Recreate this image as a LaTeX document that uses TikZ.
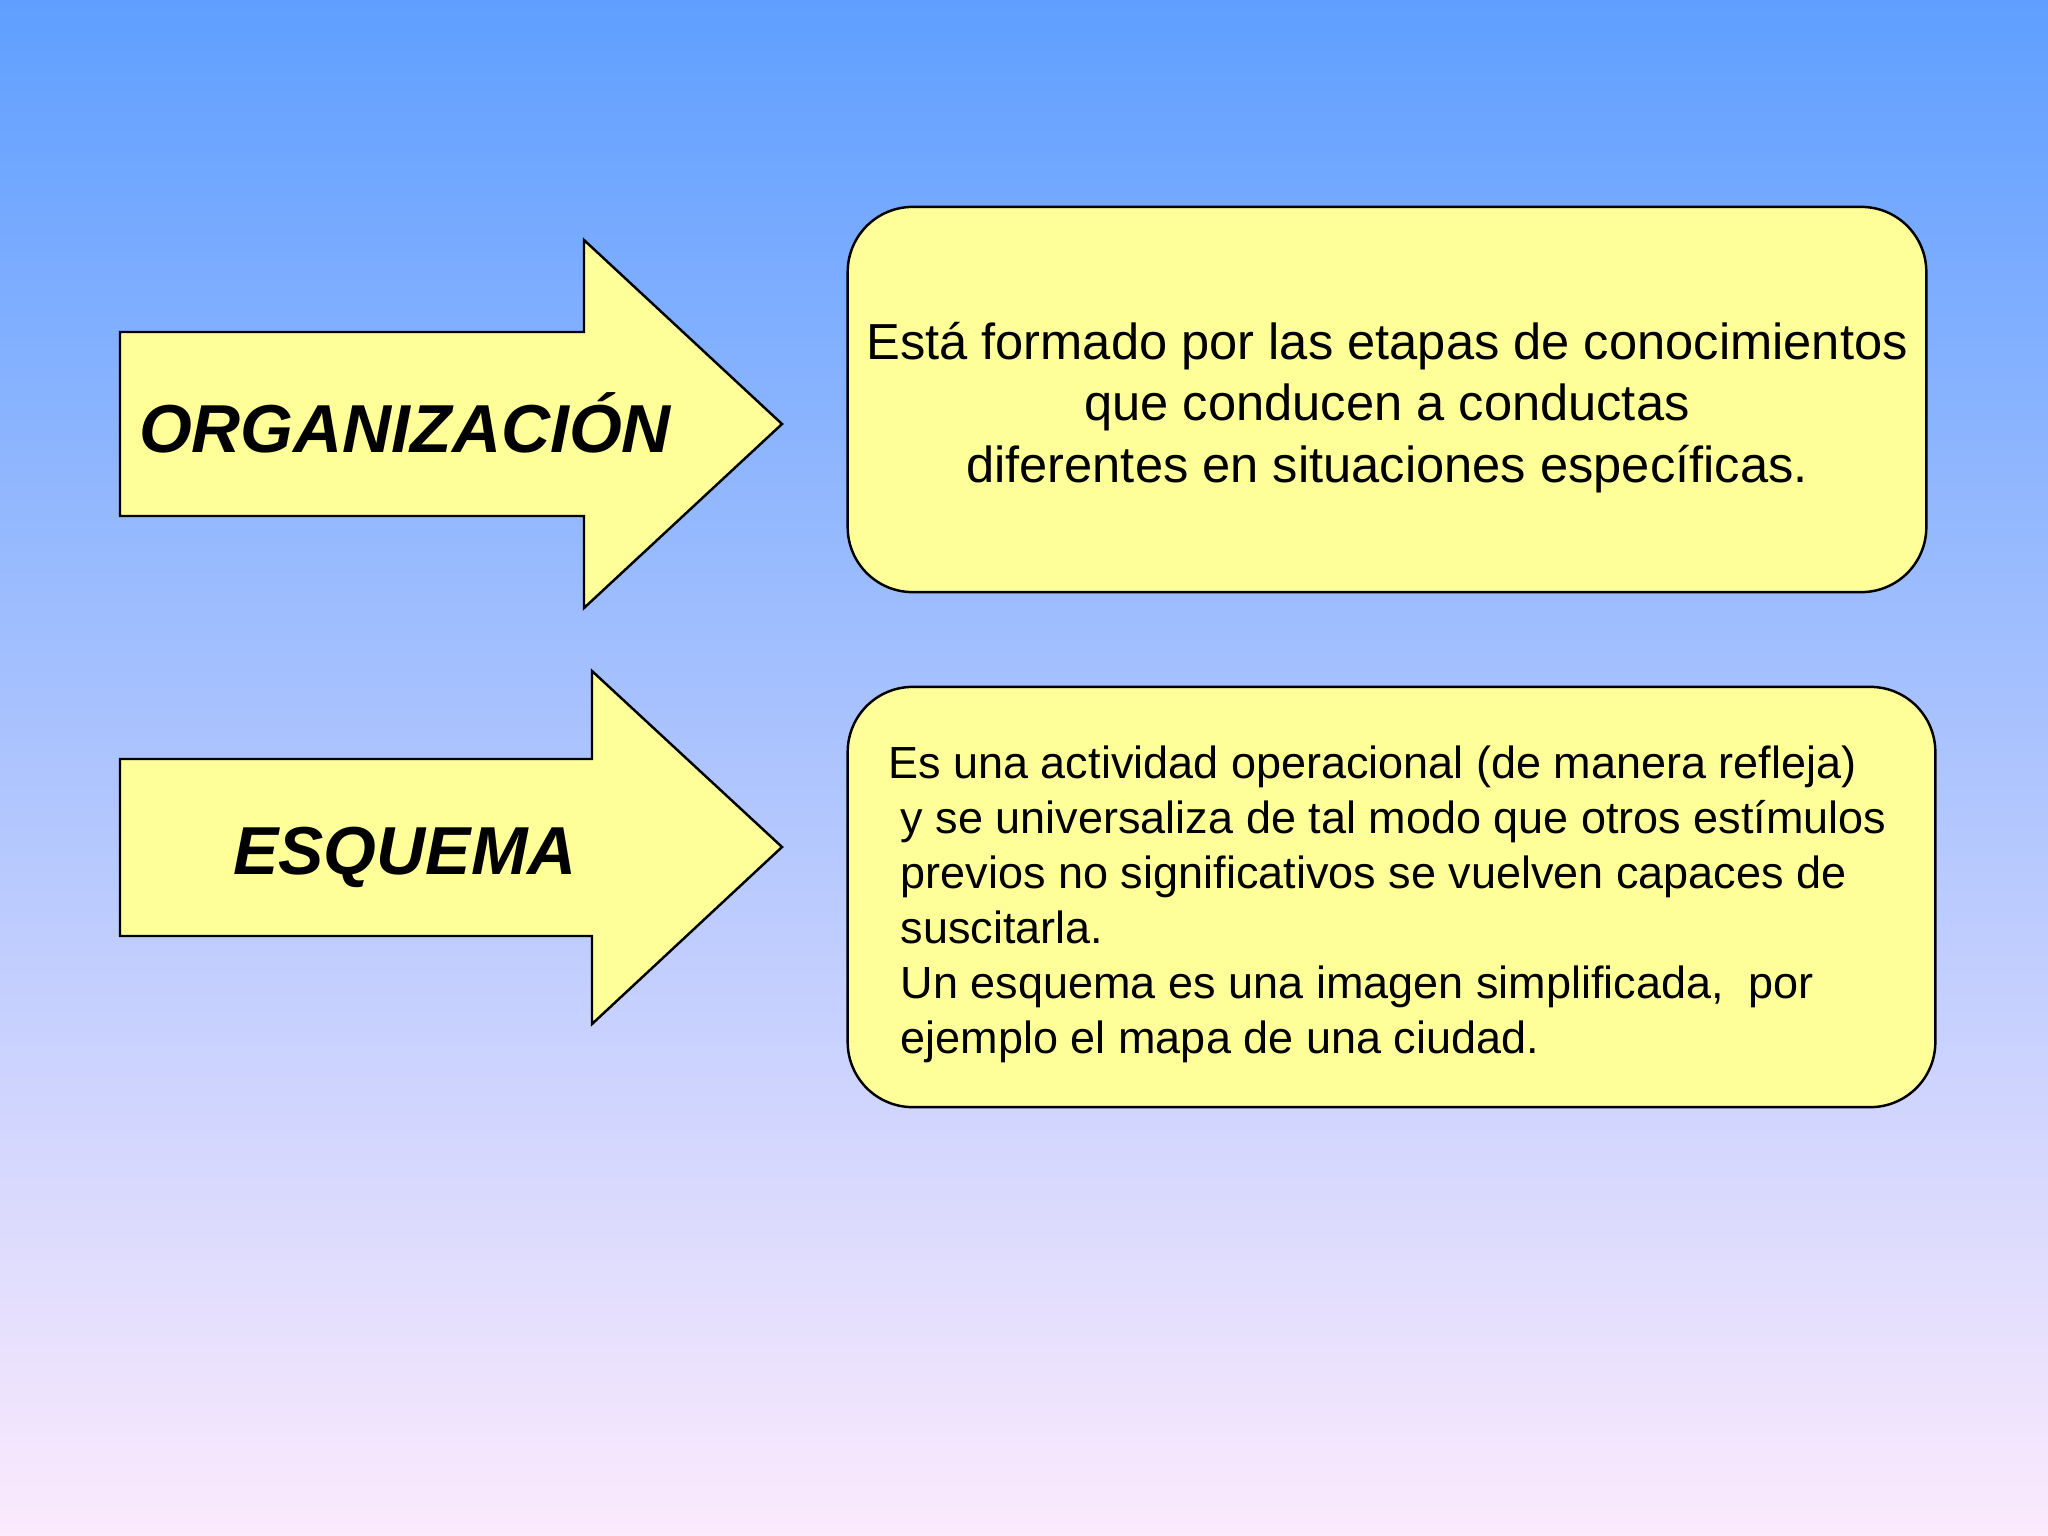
\documentclass[tikz,border=0pt]{standalone}
\usepackage{fontspec}
\setmainfont{Liberation Sans}

\definecolor{bgtop}{HTML}{5F9FFF}
\definecolor{bgbottom}{HTML}{FCEAFD}
\definecolor{paleyellow}{HTML}{FFFF99}

\begin{document}
\begin{tikzpicture}[x=0.01cm, y=-0.01cm,
    arrowshape/.style={draw=black, line width=0.7pt, fill=paleyellow, line join=miter},
    arrowlabel/.style={anchor=base, inner sep=0pt, font=\fontsize{19.3pt}{23pt}\selectfont\bfseries\itshape},
    infobox/.style={draw=black, line width=0.7pt, fill=paleyellow, rounded corners=0.65cm, inner sep=2pt}]

    \useasboundingbox (0, 0) rectangle (2048, 1536);
    \shade[top color=bgtop, bottom color=bgbottom] (0, 0) rectangle (2048, 1536);

    % left arrows, body 120..584 wide, head up to the tip at x = 782
    \draw[arrowshape] (120, 332) -- (584, 332) -- (584, 240) -- (782, 424)
        -- (584, 608) -- (584, 516) -- (120, 516) -- cycle;
    \draw[arrowshape] (120, 759) -- (592, 759) -- (592, 671) -- (782, 847)
        -- (592, 1024) -- (592, 936) -- (120, 936) -- cycle;

    \node[arrowlabel] (L_org) at (405, 452) {ORGANIZACIÓN};
    \node[arrowlabel] (L_esq) at (405, 874) {ESQUEMA};

    % text boxes on the right
    \node[infobox, minimum width=10.78cm, minimum height=3.85cm] (B_org) at (1387, 399.5) {};
    \node[infobox, minimum width=10.87cm, minimum height=4.2cm] (B_esq) at (1391.5, 897) {};

    \node[align=center, font=\fontsize{14.4pt}{17.4pt}\selectfont] (T_org)
        at ([yshift=-0.08cm]B_org.center)
        {Está formado por las etapas de conocimientos\\
         que conducen a conductas\\
         diferentes en situaciones específicas.};

    \node[align=left, font=\fontsize{12.8pt}{15.65pt}\selectfont] (T_esq)
        at ([xshift=-0.04cm, yshift=-0.07cm]B_esq.center)
        {Es una actividad operacional (de manera refleja)\\
         \ y se universaliza de tal modo que otros estímulos\\
         \ previos no significativos se vuelven capaces de\\
         \ suscitarla.\\
         \ Un esquema es una imagen simplificada,\ \ por\\
         \ ejemplo el mapa de una ciudad.};
\end{tikzpicture}
\end{document}
